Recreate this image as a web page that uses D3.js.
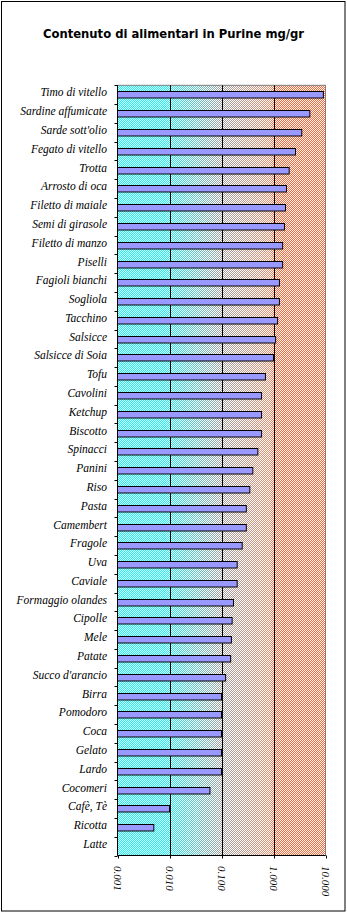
<!DOCTYPE html>
<html><head><meta charset="utf-8">
<script src="https://cdn.jsdelivr.net/npm/d3@7"></script>
<style>html,body{margin:0;padding:0;background:#fff}svg{display:block}</style>
</head><body>
<script>
const categories = ["Timo di vitello","Sardine affumicate","Sarde sott'olio","Fegato di vitello","Trotta","Arrosto di oca","Filetto di maiale","Semi di girasole","Filetto di manzo","Piselli","Fagioli bianchi","Sogliola","Tacchino","Salsicce","Salsicce di Soia","Tofu","Cavolini","Ketchup","Biscotto","Spinacci","Panini","Riso","Pasta","Camembert","Fragole","Uva","Caviale","Formaggio olandes","Cipolle","Mele","Patate","Succo d'arancio","Birra","Pomodoro","Coca","Gelato","Lardo","Cocomeri","Cafè, Tè","Ricotta","Latte"];
const values = [9.1,5.0,3.5,2.65,2.0,1.78,1.7,1.63,1.5,1.5,1.3,1.3,1.2,1.1,1.0,0.7,0.59,0.59,0.59,0.5,0.4,0.35,0.3,0.3,0.25,0.2,0.2,0.17,0.16,0.155,0.15,0.12,0.1,0.1,0.1,0.1,0.1,0.06,0.01,0.005,null];
const tickValues = [0.001,0.01,0.1,1,10];
const tickLabels = ["0.001","0.010","0.100","1.000","10.000"];
const title = "Contenuto di alimentari in Purine mg/gr";

const W = 347, H = 913;
const svg = d3.select("body").append("svg").attr("width", W).attr("height", H);
const pLeft = 117.5, pRight = 325.5, pTop = 85.3, pBottom = 855.5;

const x = d3.scaleLog().domain([0.001, 10]).range([pLeft, pRight]);
const y = d3.scaleBand().domain(categories).range([pTop, pBottom]).padding(0);

// outer border
svg.append("rect").attr("x", 1.5).attr("y", 1.5).attr("width", 343.5).attr("height", 909.5)
  .attr("fill", "#fff").attr("stroke", "#000").attr("stroke-width", 1);

// title
svg.append("text").attr("x", 173.5).attr("y", 37.5).attr("text-anchor", "middle")
  .attr("font-family", "DejaVu Sans, Verdana, sans-serif").attr("font-weight", "bold")
  .attr("font-size", 11.6).attr("fill", "#000").text(title);

const defs = svg.append("defs");
const grad = defs.append("linearGradient").attr("id", "bg").attr("gradientUnits", "userSpaceOnUse")
  .attr("x1", pLeft).attr("x2", pRight).attr("y1", 0).attr("y2", 0);
[[0, "#00FFFF"], [0.22, "#00FFFF"], [0.5, "#A0A0A0"], [0.73, "#E89070"], [0.76, "#FF6633"], [1, "#FF6633"]]
  .forEach(([o, c]) => grad.append("stop").attr("offset", o).attr("stop-color", c));
const pat = defs.append("pattern").attr("id", "dither").attr("patternUnits", "userSpaceOnUse")
  .attr("width", 2).attr("height", 2);
pat.append("rect").attr("x", 0).attr("y", 0).attr("width", 1).attr("height", 1).attr("fill", "#fff");
pat.append("rect").attr("x", 1).attr("y", 1).attr("width", 1).attr("height", 1).attr("fill", "#fff");

svg.append("rect").attr("x", pLeft).attr("y", pTop).attr("width", pRight - pLeft).attr("height", pBottom - pTop)
  .attr("fill", "url(#bg)").attr("shape-rendering", "crispEdges");
svg.append("rect").attr("x", pLeft).attr("y", pTop).attr("width", pRight - pLeft).attr("height", pBottom - pTop)
  .attr("fill", "url(#dither)").attr("shape-rendering", "crispEdges");
svg.append("rect").attr("x", pLeft).attr("y", pTop).attr("width", pRight - pLeft).attr("height", pBottom - pTop)
  .attr("fill", "none").attr("stroke", "#808080").attr("stroke-width", 1);

// gridlines
svg.append("g").selectAll("line").data(tickValues.slice(1, -1)).join("line")
  .attr("x1", d => Math.round(x(d)) + 0.5).attr("x2", d => Math.round(x(d)) + 0.5)
  .attr("y1", pTop).attr("y2", pBottom).attr("stroke", "#000").attr("stroke-width", 1);

// bars
const bh = 6.5;
svg.append("g").selectAll("rect").data(categories.map((c, i) => ({c, v: values[i]})).filter(d => d.v != null)).join("rect")
  .attr("x", pLeft)
  .attr("y", d => Math.round(y(d.c) + y.bandwidth() / 2 - bh / 2) + 0.5)
  .attr("width", d => Math.max(0, x(d.v) - pLeft))
  .attr("height", bh)
  .attr("fill", "#9999FF").attr("stroke", "#000").attr("stroke-width", 1);

// left axis
const yAxis = svg.append("g");
yAxis.append("line").attr("x1", pLeft).attr("x2", pLeft).attr("y1", pTop).attr("y2", pBottom)
  .attr("stroke", "#000");
const bounds = categories.map(c => y(c)).concat([pBottom]);
yAxis.selectAll("line.tk").data(bounds).join("line").attr("class", "tk")
  .attr("x1", pLeft - 3).attr("x2", pLeft).attr("y1", d => Math.round(d) + 0.5).attr("y2", d => Math.round(d) + 0.5)
  .attr("stroke", "#000");
yAxis.selectAll("text").data(categories).join("text")
  .attr("x", 107).attr("y", d => y(d) + y.bandwidth() / 2 + 1.8)
  .attr("text-anchor", "end").attr("font-family", "Liberation Serif, Times New Roman, serif")
  .attr("font-style", "italic").attr("font-size", 11.5).attr("fill", "#000").text(d => d);

// bottom axis
const xAxis = svg.append("g");
xAxis.append("line").attr("x1", pLeft).attr("x2", pRight).attr("y1", pBottom).attr("y2", pBottom).attr("stroke", "#000");
xAxis.selectAll("line.tk").data(tickValues).join("line").attr("class", "tk")
  .attr("x1", d => Math.round(x(d)) + 0.5).attr("x2", d => Math.round(x(d)) + 0.5)
  .attr("y1", pBottom).attr("y2", pBottom + 3).attr("stroke", "#000");
xAxis.selectAll("text").data(tickValues).join("text")
  .attr("transform", d => `translate(${x(d)},866) rotate(90)`)
  .attr("dy", "0.35em").attr("text-anchor", "start")
  .attr("font-family", "Liberation Serif, Times New Roman, serif").attr("font-style", "italic")
  .attr("font-size", 11).attr("fill", "#000").text((d, i) => tickLabels[i]);
</script>
</body></html>
